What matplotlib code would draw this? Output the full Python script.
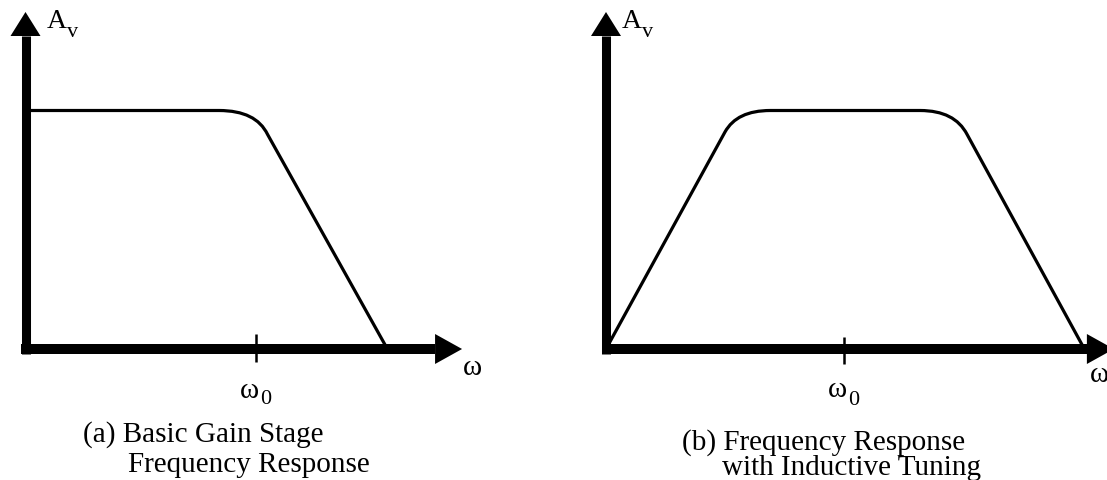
import matplotlib
matplotlib.use("Agg")
import matplotlib.pyplot as plt
from matplotlib.path import Path
from matplotlib.patches import PathPatch

plt.rcParams["font.family"] = ["Liberation Serif", "DejaVu Serif"]

W, H, DPI = 1107, 481, 100

# Gain curves, frequency normalised to w0 and gain to the passband value.
# Vertices of a path: straight runs joined by quadratic-Bezier knees.
lp_freq = [0.0, 0.84, 1.00, 1.05, 1.57]
lp_gain = [1.0, 1.0, 1.0, 0.90, 0.0]
lp_codes = [Path.MOVETO, Path.LINETO, Path.CURVE3, Path.CURVE3, Path.LINETO]

bp_freq = [0.0, 0.50, 0.55, 0.69, 1.32, 1.465, 1.517, 2.01]
bp_gain = [0.0, 0.91, 1.0, 1.0, 1.0, 1.0, 0.90, 0.0]
bp_codes = [Path.MOVETO, Path.LINETO, Path.CURVE3, Path.CURVE3,
            Path.LINETO, Path.CURVE3, Path.CURVE3, Path.LINETO]

tick_freq = 1.0
y_label = ("A", "v")
x_label = "ω"
tick_label = ("ω", "0")
captions_a = ["(a) Basic Gain Stage", "Frequency Response"]
captions_b = ["(b) Frequency Response", "with Inductive Tuning"]

fig = plt.figure(figsize=(W / DPI, H / DPI), dpi=DPI)
fig.patch.set_facecolor("white")


def fx(px):
    return px / W


def fy(py):
    return 1 - py / H


def panel(origin, sx, sy, x_tip, freq, gain, codes, tick_span):
    ox, oy = origin
    ax = fig.add_axes([0, 0, 1, 1])
    ax.set_xlim(-ox / sx, (W - ox) / sx)
    ax.set_ylim((oy - H) / sy, oy / sy)
    ax.axis("off")
    ax.patch.set_alpha(0)

    # response curve
    path = Path(list(zip(freq, gain)), codes)
    ax.add_patch(PathPatch(path, fill=False, lw=2.3, ec="black",
                           capstyle="round", joinstyle="round", zorder=2))

    # thick axes with arrow heads
    y_tip = 1.413
    head_len_y, head_len_x, half_w = 24, 27, 15
    ax.plot([0, 0], [-5 / sy, y_tip - head_len_y / sy], color="black",
            lw=6.5, solid_capstyle="butt", zorder=3)
    ax.fill([-half_w / sx, half_w / sx, 0],
            [y_tip - head_len_y / sy, y_tip - head_len_y / sy, y_tip],
            color="black", lw=0, zorder=3)
    ax.plot([-4.5 / sx, x_tip - head_len_x / sx], [0, 0], color="black",
            lw=7.2, solid_capstyle="butt", zorder=3)
    ax.fill([x_tip - head_len_x / sx, x_tip - head_len_x / sx, x_tip],
            [half_w / sy, -half_w / sy, 0],
            color="black", lw=0, zorder=3, clip_on=False)

    # tick at w0
    ax.plot([tick_freq, tick_freq], [tick_span[0] / sy, -tick_span[1] / sy],
            color="black", lw=1.8, solid_capstyle="butt", zorder=4)
    return ax


panel((25.5, 350), 230.5, 238.5, 1.894, lp_freq, lp_gain, lp_codes, (15, 13))
panel((606, 350), 238.0, 238.5, 2.134, bp_freq, bp_gain, bp_codes, (12, 15))


def txt(px, py, s, size):
    fig.text(fx(px), fy(py), s, fontsize=size, ha="left", va="baseline")


# axis names
for ax0 in (47, 622):
    txt(ax0, 28, y_label[0], 20)
    txt(ax0 + 20, 37, y_label[1], 16)
txt(463, 375, x_label, 21)
txt(1090, 382, x_label, 21)

# w0 tick labels
txt(240, 398, tick_label[0], 21)
txt(260, 404, tick_label[1], 16)
txt(828, 397, tick_label[0], 21)
txt(848, 405, tick_label[1], 16)

# captions
txt(83, 442, captions_a[0], 21)
txt(128, 472, captions_a[1], 21)
txt(682, 450, captions_b[0], 21)
txt(722, 475, captions_b[1], 21)

fig.savefig("out.png", dpi=DPI, facecolor="white")
